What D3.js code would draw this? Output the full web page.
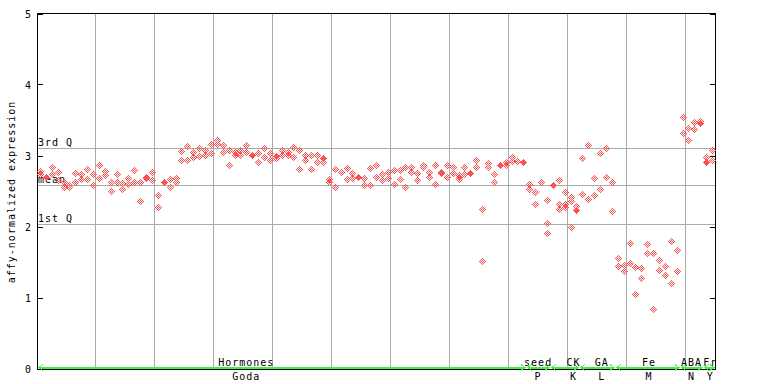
<!DOCTYPE html>
<html>
<head>
<meta charset="utf-8">
<script src="https://cdn.jsdelivr.net/npm/d3@7"></script>
<style>
  body { margin: 0; background: #fff; }
  svg text { font-family: "DejaVu Sans Mono", monospace; font-size: 10px; letter-spacing: 1px; fill: #000; }
</style>
</head>
<body>
<div id="chart"></div>
<script>
// groups along the x axis (column ranges)
const groupNames = ["Hormones", "seed", "CK", "GA", "Fe", "ABA", "Fr"];
const groupCodes = ["Goda", "P", "K", "L", "M", "N", "Y"];
const groupStart = [0, 83, 87, 92, 98, 109, 113];
const groupEnd   = [82, 86, 91, 97, 108, 112, 114];
const groupLabelAt = [35.5, 85, 91, 95.8, 103.8, 111, 114.2];

// replicate values per column
const godaReps = [
  [2.79, 2.75], [], [2.84, 2.75], [2.78, 2.66], [2.63, 2.56], [2.59, 2.56], [2.76, 2.63], [2.75, 2.67],
  [2.81, 2.67], [2.75, 2.59], [2.88, 2.69], [2.79, 2.73], [2.64, 2.51], [2.74, 2.64], [2.62, 2.54], [2.69, 2.61],
  [2.80, 2.63], [2.64, 2.37], [2.69], [2.78, 2.66], [2.45, 2.28], [], [2.67, 2.56], [2.69, 2.63],
  [3.07, 2.95], [3.14, 2.95], [3.05, 2.98], [3.11, 3.00], [3.08, 3.02], [3.17, 3.04], [3.22, 3.17], [3.15, 3.05],
  [3.08, 2.87], [3.05, 3.02], [3.09, 3.01], [3.15, 3.05], [], [3.04, 2.91], [3.11, 2.98], [3.04, 2.95],
  [2.97], [3.08, 3.01], [3.05, 3.02], [3.12, 2.98], [3.09, 2.81], [3.01, 2.94], [3.01, 2.81], [3.02, 2.92],
  [2.92], [2.67, 2.64], [2.81, 2.56], [2.77], [2.83, 2.67], [2.76, 2.69], [], [2.69, 2.59],
  [2.83, 2.59], [2.87, 2.70], [2.74, 2.66], [2.78, 2.69], [2.80, 2.60], [2.80, 2.67], [2.84, 2.57], [2.84, 2.77],
  [2.76, 2.66], [2.88, 2.85], [2.78, 2.70], [2.88, 2.60], [2.78, 2.76], [2.88, 2.70], [2.84, 2.76], [2.73, 2.67],
  [2.84, 2.74], [], [2.95, 2.85], [2.26, 1.52], [2.90, 2.84], [2.74, 2.63], [], [2.91, 2.87],
  [2.98, 2.93], [2.93], []
];
const seedReps = [[2.61, 2.53], [2.49, 2.33], [2.63], [2.38, 2.05, 1.92]];
const ckReps = [[], [2.66, 2.33, 2.26], [2.49, 2.33, 2.28], [2.42, 2.36, 2.00], [2.30]];
const gaReps = [[2.97, 2.47], [3.15, 2.40], [2.69, 2.45], [3.04, 2.54], [3.11, 2.70], [2.63, 2.22]];
const feReps = [[1.57, 1.45], [1.47, 1.38], [1.77, 1.50], [1.43, 1.06], [1.42, 1.28], [1.76, 1.64],
  [1.64, 0.84], [1.53, 1.40], [1.45, 1.32], [1.80, 1.21], [1.67, 1.38]];
const abaReps = [[3.55, 3.32], [3.39, 3.23], [3.48, 3.38], [3.50]];
const frReps = [[2.98], [3.09, 2.94]];

// solid markers: [column, value]
const filledPoints = [[1, 2.71], [18, 2.71], [21, 2.64], [36, 3.02], [40, 3.00], [48, 2.97], [54, 2.70],
  [71, 2.70], [73, 2.76], [78, 2.88], [82, 2.91], [87, 2.59], [91, 2.24], [112, 3.46], [113, 2.92]];

const qLabels = ["3rd Q", "mean", "1st Q"];
const qValues = [3.11, 2.59, 2.04];
const yTicks = [0, 1, 2, 3, 4, 5];
const nColumns = 115;

const W = 768, H = 384;
const x = d3.scaleLinear().domain([0, nColumns]).range([37, 715]);
const y = d3.scaleLinear().domain([0, 5]).range([369, 14]);
const px = v => Math.floor(v) + 0.5;

const svg = d3.select("#chart").append("svg")
  .attr("width", W).attr("height", H)
  .attr("shape-rendering", "crispEdges");

const red = "#ff5050";
const defs = svg.append("defs");
const hollow = defs.append("g").attr("id", "dm");
const solid = defs.append("g").attr("id", "dmf");
for (let dy = -3; dy <= 3; dy++) {
  for (let dx = -3; dx <= 3; dx++) {
    const s = Math.abs(dx) + Math.abs(dy);
    if (s > 3) continue;
    solid.append("rect").attr("x", dx).attr("y", dy).attr("width", 1).attr("height", 1).attr("fill", red);
    if (s % 2 === 1)
      hollow.append("rect").attr("x", dx).attr("y", dy).attr("width", 1).attr("height", 1).attr("fill", red);
  }
}

// vertical grid every 10 columns
svg.append("g").selectAll("line")
  .data(d3.range(10, nColumns, 10))
  .enter().append("line")
  .attr("x1", d => px(x(d))).attr("x2", d => px(x(d)))
  .attr("y1", y(5)).attr("y2", y(0))
  .attr("stroke", "#aaaaaa");

// quartile lines
svg.append("g").selectAll("line")
  .data(qValues)
  .enter().append("line")
  .attr("x1", x(0)).attr("x2", x(nColumns))
  .attr("y1", d => px(y(d))).attr("y2", d => px(y(d)))
  .attr("stroke", "#aaaaaa");

// frame
const frame = svg.append("g").attr("stroke", "#000");
frame.append("line").attr("x1", px(x(0))).attr("x2", px(x(0))).attr("y1", y(5)).attr("y2", y(0) + 1);
frame.append("line").attr("x1", px(x(nColumns))).attr("x2", px(x(nColumns))).attr("y1", y(5)).attr("y2", y(0) + 1);
frame.append("line").attr("x1", x(0)).attr("x2", x(nColumns) + 1).attr("y1", px(y(5)) - 1).attr("y2", px(y(5)) - 1);
frame.append("line").attr("x1", x(0)).attr("x2", x(nColumns) + 1).attr("y1", px(y(0))).attr("y2", px(y(0)));

// ticks left and right, pointing inwards
frame.selectAll(".tl").data(yTicks).enter().append("line")
  .attr("x1", x(0)).attr("x2", x(0) + 6)
  .attr("y1", d => px(y(d))).attr("y2", d => px(y(d)));
frame.selectAll(".tr").data(yTicks).enter().append("line")
  .attr("x1", x(nColumns) - 5).attr("x2", x(nColumns))
  .attr("y1", d => px(y(d))).attr("y2", d => px(y(d)));

svg.append("g").selectAll("text")
  .data(yTicks)
  .enter().append("text")
  .attr("x", 32).attr("y", d => y(d) + 4)
  .attr("text-anchor", "end")
  .text(d => d);

svg.append("text")
  .attr("transform", "translate(15," + 192 + ") rotate(-90)")
  .attr("text-anchor", "middle")
  .text("affy-normalized expression");

svg.append("g").selectAll("text")
  .data(qValues)
  .enter().append("text")
  .attr("x", 38).attr("y", d => y(d) - 2)
  .text((d, i) => qLabels[i]);

// points
const allReps = [godaReps, seedReps, ckReps, gaReps, feReps, abaReps, frReps];
const points = [];
allReps.forEach((reps, g) => {
  reps.forEach((vals, j) => {
    vals.forEach(v => points.push({ col: groupStart[g] + j, value: v }));
  });
});

svg.append("g").selectAll("use")
  .data(points)
  .enter().append("use")
  .attr("href", "#dm")
  .attr("transform", d => "translate(" + Math.round(x(d.col + 0.5)) + "," + Math.round(y(d.value)) + ")");

svg.append("g").selectAll("use")
  .data(filledPoints)
  .enter().append("use")
  .attr("href", "#dmf")
  .attr("transform", d => "translate(" + Math.round(x(d[0] + 0.5)) + "," + Math.round(y(d[1])) + ")");

// group arrows and labels
const green = "#44ee44";
const arrows = svg.append("g").attr("stroke", green).attr("fill", "none");
groupNames.forEach((name, i) => {
  const x0 = Math.round(x(groupStart[i])) + 2;
  const x1 = Math.round(x(groupEnd[i] + 1)) - 1;
  const yy = y(0) - 1.5;
  arrows.append("line").attr("x1", x0).attr("x2", x1).attr("y1", yy).attr("y2", yy).attr("stroke-width", 2);
  arrows.append("path").attr("d", `M${x0 + 4},${yy - 3}L${x0},${yy}L${x0 + 4},${yy + 3}`);
  arrows.append("path").attr("d", `M${x1 - 4},${yy - 3}L${x1},${yy}L${x1 - 4},${yy + 3}`);
});

svg.append("g").selectAll("text")
  .data(groupNames)
  .enter().append("text")
  .attr("x", (d, i) => x(groupLabelAt[i]))
  .attr("y", 366)
  .attr("text-anchor", "middle")
  .text(d => d);

svg.append("g").selectAll("text")
  .data(groupCodes)
  .enter().append("text")
  .attr("x", (d, i) => x(groupLabelAt[i]))
  .attr("y", 380)
  .attr("text-anchor", "middle")
  .text(d => d);
</script>
</body>
</html>
